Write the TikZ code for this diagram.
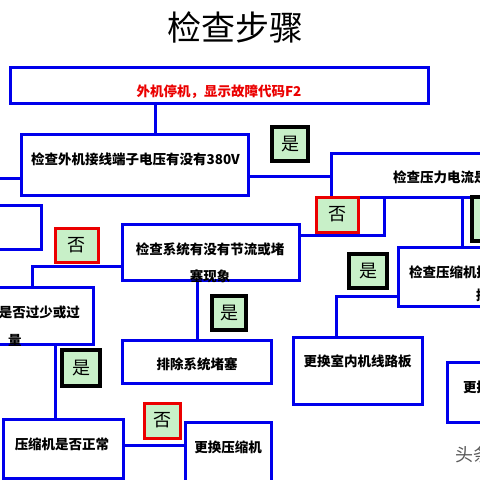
\documentclass[tikz,border=0pt]{standalone}
\usepackage{fontspec}
\newfontfamily\cjk{Noto Sans CJK SC}
\definecolor{bblue}{RGB}{0,0,235}
\definecolor{lgreen}{RGB}{200,240,200}
\definecolor{rred}{RGB}{235,0,0}
\begin{document}
\begin{tikzpicture}[x=1pt,y=-1pt,
  bx/.style={draw=bblue, line width=3pt, fill=white, inner sep=0pt},
  ln/.style={draw=bblue, line width=3pt},
  yesb/.style={draw=black, line width=3.5pt, fill=lgreen, inner sep=0pt, font=\cjk\fontsize{18}{18}\selectfont},
  nob/.style={draw=rred, line width=3pt, fill=lgreen, inner sep=0pt, font=\cjk\fontsize{18}{18}\selectfont},
  txt/.style={font=\cjk\bfseries\fontsize{13.5}{16}\selectfont, inner sep=0pt}]
\useasboundingbox (0,0) rectangle (480,480);
\fill[white] (0,0) rectangle (480,480);
% boxes
\node[bx, minimum width=418pt, minimum height=36pt] (top) at (219,85) {};
\node[bx, minimum width=227pt, minimum height=61pt] (v2) at (134.5,164.5) {};
\node[bx, minimum width=229pt, minimum height=44pt] (b3) at (445.5,175) {};
\node[bx, minimum width=162pt, minimum height=59pt] (comp) at (479,276.5) {};
\node[bx, minimum width=129pt, minimum height=67pt] (room) at (357.5,370.5) {};
\node[bx, minimum width=113pt, minimum height=60pt] (rep) at (503.5,392) {};
\node[bx, minimum width=177pt, minimum height=56pt] (sys) at (210.5,252) {};
\node[bx, minimum width=149pt, minimum height=43pt] (clear) at (196.5,361.5) {};
\node[bx, minimum width=153pt, minimum height=57pt] (small) at (16.5,315.5) {};
\node[bx, minimum width=101pt, minimum height=44pt] (tl) at (-9.5,227) {};
\node[bx, minimum width=120pt, minimum height=59pt] (press) at (63,448.5) {};
\node[bx, minimum width=86pt, minimum height=78pt] (newc) at (228,461) {};
% yes / no tags
\node[yesb, minimum width=36pt, minimum height=34pt] (yes1) at (290,144) {是};
\node[nob, minimum width=42pt, minimum height=35pt] (no1) at (337,214.5) {否};
\node[yesb, minimum width=43pt, minimum height=44pt] (yes2) at (493.5,219) {};
\node[yesb, minimum width=38pt, minimum height=34pt] (yes3) at (368,271) {是};
\node[yesb, minimum width=34pt, minimum height=34pt] (yes4) at (229,313) {是};
\node[nob, minimum width=43pt, minimum height=34pt] (no2) at (76.5,245) {否};
\node[yesb, minimum width=38pt, minimum height=36pt] (yes5) at (81,368) {是};
\node[nob, minimum width=36pt, minimum height=35pt] (no3) at (162,420.5) {否};
% texts
\node[font=\cjk\fontsize{34}{34}\selectfont, inner sep=0pt] (title) at (235,27) {检查步骤};
\node[txt, text=rred] (ttop) at (219,92) {外机停机，显示故障代码F2};
\node[txt] (tv2) at (135.5,159) {检查外机接线端子电压有没有380V};
\node[txt, anchor=west] (tb3) at (393,177) {检查压力电流是否正常};
\node[txt, anchor=west] (tcomp) at (409,272) {检查压缩机接线};
\node[txt, anchor=west] (tcomp2) at (476,295) {接触器};
\node[txt] (troom) at (357.5,361) {更换室内机线路板};
\node[txt, anchor=west] (trep) at (463,387) {更换室外机线路板};
\node[txt] (tsys1) at (210,249) {检查系统有没有节流或堵};
\node[txt] (tsys2) at (210,276) {塞现象};
\node[txt] (tclear) at (197,364) {排除系统堵塞};
\node[txt, anchor=east] (tsmall) at (80,312) {是否过少或过};
\node[txt] (tsmall2) at (15,340) {量};
\node[txt] (tpress) at (62,444) {压缩机是否正常};
\node[txt] (tnewc) at (228,447) {更换压缩机};
\node[font=\cjk\fontsize{18}{18}\selectfont, text=black!65, anchor=west, inner sep=0pt] (wm) at (455,455) {头条};
% connectors
\coordinate (lft) at (0,178);
\draw[ln] (top.south -| 155,0) -- (v2.north -| 155,0);
\draw[ln] (v2.west |- lft) -- (lft);
\draw[ln] (v2.east |- 0,176) -- (b3.west |- 0,176);
\draw[ln] (b3.south -| 384,0) |- (sys.east |- 0,235);
\draw[ln] (b3.south -| 462,0) -- (comp.north -| 462,0);
\draw[ln] (comp.west |- 0,296) -| (room.north -| 336,0);
\draw[ln] (sys.south -| 197,0) -- (clear.north -| 197,0);
\draw[ln] (sys.west |- 0,266) -| (small.north -| 32,0);
\draw[ln] (small.south -| 55,0) -- (press.north -| 55,0);
\draw[ln] (press.east |- 0,445) -- (newc.west |- 0,445);
\end{tikzpicture}
\end{document}
